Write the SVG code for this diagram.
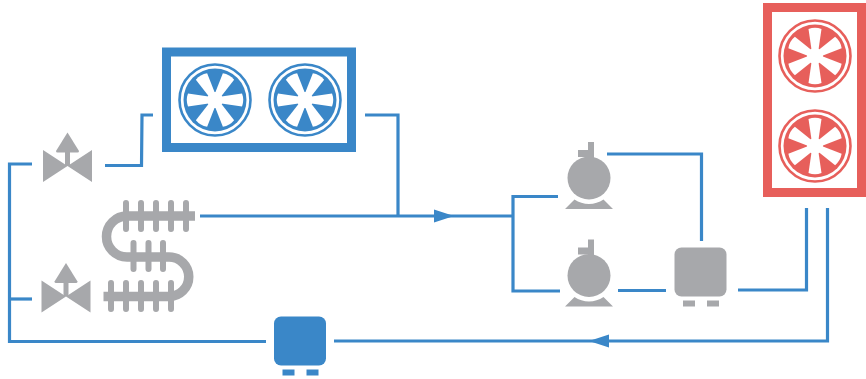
<svg xmlns="http://www.w3.org/2000/svg" xmlns:xlink="http://www.w3.org/1999/xlink" width="866" height="379" viewBox="0 0 866 379">
<style>
.gray{fill:#a7a8ab}
.conn{fill:none;stroke:#3a87c8;stroke-width:3.200}
.blue{fill:#3a87c8}
.red{fill:#e75f5b}
.frame{fill:#fff;stroke-width:9}
.ring{fill:none;stroke-width:2.600}
.blade{fill:#fff}
.coil{fill:none;stroke:#a7a8ab;stroke-width:9.500}
.fin{stroke:#a7a8ab;stroke-width:6;stroke-linecap:round;fill:none}
</style>
<defs>
<g id="blades">
<path id="b" class="blade" d="M-3,-3 L-6.500,-27 Q0,-29.500 6.500,-27 L3,-3Z"/>
<use xlink:href="#b" transform="rotate(60)"/>
<use xlink:href="#b" transform="rotate(120)"/>
<use xlink:href="#b" transform="rotate(180)"/>
<use xlink:href="#b" transform="rotate(240)"/>
<use xlink:href="#b" transform="rotate(300)"/>
<circle r="8" class="blade"/>
</g>
<g id="valve" class="gray">
<path d="M-24.500,-16 L0,0 L-24.500,16Z"/>
<path d="M24.500,-16 L0,0 L24.500,16Z"/>
<rect x="-2.500" y="-15" width="5" height="15"/>
<path d="M0,-33.500 L11.500,-15 Q11.500,-13.500 10,-13.500 L-10,-13.500 Q-11.500,-13.500 -11.500,-15Z"/>
</g>
<g id="pump" class="gray">
<circle cx="0" cy="0" r="21.500"/>
<rect x="-1" y="-36" width="6" height="18"/>
<rect x="-11" y="-28" width="14" height="7"/>
<path d="M-24,31 L-14.500,21.500 A26,26 0 0 0 14.500,21.500 L24,31Z"/>
</g>
<g id="tank">
<rect x="0" y="0" width="52" height="49" rx="7"/>
<rect x="8.500" y="53" width="12" height="6"/>
<rect x="32.500" y="53" width="12" height="6"/>
</g>
</defs>
<g id="connectors">
<path class="conn" d="M32,164 H9.500 V341.500 H266"/>
<path class="conn" d="M9.500,299 H32"/>
<path class="conn" d="M105,165.500 H141.500 L142,115 H153"/>
<path class="conn" d="M365,115 H398 V216"/>
<path class="conn" d="M200,216 H513"/>
<path class="conn" d="M558,196.500 H513 V291 H560"/>
<path class="conn" d="M618,290.500 H666"/>
<path class="conn" d="M607,154 H701.500 V241"/>
<path class="conn" d="M738,290 H806.500 V208"/>
<path class="conn" d="M827.500,208 V341 H334"/>
<path class="blue" d="M434,209.500 L454,216 L434,222.500Z"/>
<path class="blue" d="M609,334.500 L589,341 L609,347.500Z"/>
</g>
<g id="cooler-blue">
<rect class="frame" x="166.500" y="52" width="185" height="95.500" stroke="#3a87c8"/>
<g transform="translate(215,100)"><circle class="ring" r="35.500" stroke="#3a87c8"/><circle class="blue" r="31.500"/><use xlink:href="#blades" transform="rotate(30)"/></g>
<g transform="translate(305,100)"><circle class="ring" r="35.500" stroke="#3a87c8"/><circle class="blue" r="31.500"/><use xlink:href="#blades" transform="rotate(30)"/></g>
</g>
<g id="cooler-red">
<rect class="frame" x="767.500" y="7.500" width="94" height="185" stroke="#e75f5b"/>
<g transform="translate(815,56)"><circle class="ring" r="35.500" stroke="#e75f5b"/><circle class="red" r="31.500"/><use xlink:href="#blades"/></g>
<g transform="translate(815,146)"><circle class="ring" r="35.500" stroke="#e75f5b"/><circle class="red" r="31.500"/><use xlink:href="#blades"/></g>
</g>
<g id="valve-top"><use xlink:href="#valve" x="67.500" y="166"/></g>
<g id="valve-bottom"><use xlink:href="#valve" x="66" y="296.500"/></g>
<g id="coil">
<path class="coil" d="M195,216 H127 A20.500,20.500 0 0 0 127,257 H169 A19.750,19.750 0 0 1 169,296.500 H103.500"/>
<path class="fin" d="M126,203V229M141,203V229M156,203V229M171,203V229M186,203V229M133.500,243V269M148.500,243V269M163,243V269M111,283V309M126,283V309M141,283V309M156,283V309M171,283V309"/>
</g>
<g id="pump-top"><use xlink:href="#pump" x="589" y="178"/></g>
<g id="pump-bottom"><use xlink:href="#pump" x="589" y="275.500"/></g>
<g id="tank-gray" class="gray"><use xlink:href="#tank" x="674.500" y="247.500"/></g>
<g id="tank-blue" class="blue"><use xlink:href="#tank" x="274" y="316.500"/></g>
</svg>
